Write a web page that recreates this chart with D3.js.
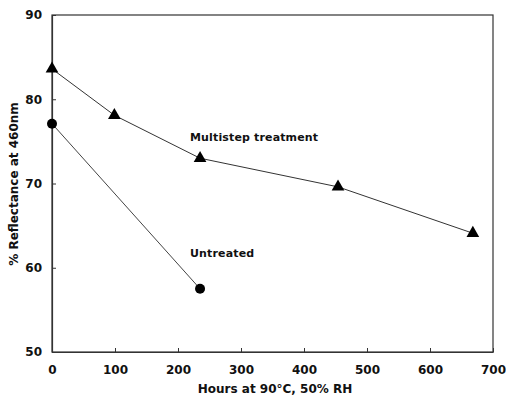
<!DOCTYPE html>
<html>
<head>
<meta charset="utf-8">
<script src="https://cdn.jsdelivr.net/npm/d3@7"></script>
<style>
  body { margin: 0; background: #fff; }
  svg text { font-family: "DejaVu Sans", Verdana, sans-serif; font-weight: bold; fill: #111; }
</style>
</head>
<body>
<svg id="chart"></svg>
<script>
var width = 506;
var height = 396;
var margin = { top: 15, right: 13, bottom: 44, left: 52 };

// hours at 90C, 50% RH
var multistepHours = [0, 99, 235, 454, 668];
var multistepReflectance = [83.6, 78.1, 73.0, 69.6, 64.1];
var untreatedHours = [0, 235];
var untreatedReflectance = [77.1, 57.5];

var xTicks = [0, 100, 200, 300, 400, 500, 600, 700];
var yTicks = [50, 60, 70, 80, 90];

var multistep = multistepHours.map((h, i) => ({ x: h, y: multistepReflectance[i] }));
var untreated = untreatedHours.map((h, i) => ({ x: h, y: untreatedReflectance[i] }));

var svg = d3.select("#chart").attr("width", width).attr("height", height);

var xScale = d3.scaleLinear().domain([0, 700]).range([margin.left, width - margin.right]);
var yScale = d3.scaleLinear().domain([50, 90]).range([height - margin.bottom, margin.top]);

// frame
svg.append("rect")
  .attr("x", margin.left)
  .attr("y", margin.top)
  .attr("width", width - margin.left - margin.right)
  .attr("height", height - margin.top - margin.bottom)
  .attr("fill", "none")
  .attr("stroke", "#333")
  .attr("stroke-width", 1.2);

// axes, ticks point inwards
var xAxis = d3.axisBottom(xScale).tickValues(xTicks).tickSize(-4).tickSizeOuter(0).tickPadding(13);
var yAxis = d3.axisLeft(yScale).tickValues(yTicks).tickSize(-4).tickSizeOuter(0).tickPadding(10);

var gx = svg.append("g")
  .attr("transform", `translate(0, ${height - margin.bottom})`)
  .call(xAxis);
var gy = svg.append("g")
  .attr("transform", `translate(${margin.left}, 0)`)
  .call(yAxis);

[gx, gy].forEach(function (g) {
  g.select(".domain").attr("stroke", "#333").attr("stroke-width", 1.2);
  g.selectAll(".tick line").attr("stroke", "#333");
  g.selectAll(".tick text").style("font-size", "12px").attr("fill", "#111");
});

// lines
var line = d3.line().x((d) => xScale(d.x)).y((d) => yScale(d.y));

svg.append("path")
  .datum(multistep)
  .attr("d", line)
  .attr("fill", "none")
  .attr("stroke", "#333")
  .attr("stroke-width", 1);

svg.append("path")
  .datum(untreated)
  .attr("d", line)
  .attr("fill", "none")
  .attr("stroke", "#444")
  .attr("stroke-width", 1);

// markers
svg.selectAll(".tri")
  .data(multistep)
  .enter()
  .append("path")
  .attr("class", "tri")
  .attr("d", d3.symbol().type(d3.symbolTriangle).size(70))
  .attr("transform", (d) => `translate(${xScale(d.x)}, ${yScale(d.y)})`)
  .attr("fill", "#000");

svg.selectAll(".dot")
  .data(untreated)
  .enter()
  .append("circle")
  .attr("class", "dot")
  .attr("cx", (d) => xScale(d.x))
  .attr("cy", (d) => yScale(d.y))
  .attr("r", 5)
  .attr("fill", "#000");

// series labels
svg.append("text")
  .attr("x", 190)
  .attr("y", 141)
  .style("font-size", "11px")
  .style("letter-spacing", "0.15px")
  .text("Multistep treatment");

svg.append("text")
  .attr("x", 190)
  .attr("y", 257)
  .style("font-size", "11px")
  .style("letter-spacing", "0.15px")
  .text("Untreated");

// axis titles
svg.append("text")
  .attr("x", 275)
  .attr("y", 393)
  .style("text-anchor", "middle")
  .style("font-size", "12px")
  .text("Hours at 90°C, 50% RH");

svg.append("text")
  .attr("transform", "rotate(-90)")
  .attr("x", -184)
  .attr("y", 18)
  .style("text-anchor", "middle")
  .style("font-size", "12px")
  .text("% Reflectance at 460nm");
</script>
</body>
</html>
